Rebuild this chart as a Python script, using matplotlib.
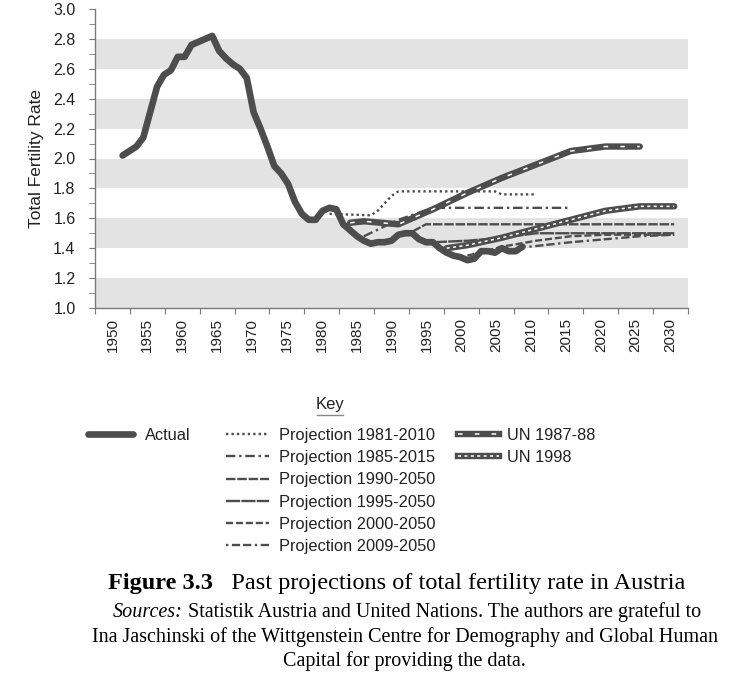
import numpy as np
import matplotlib
matplotlib.use("Agg")
import matplotlib.pyplot as plt
from matplotlib.lines import Line2D
from matplotlib.ticker import FixedLocator, FixedFormatter, NullFormatter

plt.rcParams["font.family"] = ["Liberation Sans", "DejaVu Sans"]

INK = "#4d4d4d"
BAND = "#e3e3e3"
AXIS = "#7a7a7a"

# ── data ─────────────────────────────────────────────────────────────────────
actual_years = list(range(1950, 2009))
actual_tfr = [2.02, 2.05, 2.08, 2.14, 2.31, 2.48, 2.56, 2.59, 2.68, 2.68,
              2.76, 2.78, 2.80, 2.82, 2.72, 2.67, 2.63, 2.60, 2.54, 2.31,
              2.20, 2.08, 1.95, 1.90, 1.83, 1.71, 1.63, 1.59, 1.59, 1.65,
              1.67, 1.66, 1.56, 1.52, 1.48, 1.45, 1.43, 1.44, 1.44, 1.45,
              1.49, 1.50, 1.50, 1.46, 1.44, 1.44, 1.40, 1.37, 1.35, 1.34,
              1.32, 1.33, 1.38, 1.38, 1.37, 1.40, 1.38, 1.38, 1.41]

p1981_years = [1980, 1986, 1987, 1988, 1989, 1990, 2004, 2005, 2010]
p1981_tfr   = [1.63, 1.62, 1.65, 1.70, 1.75, 1.78, 1.78, 1.76, 1.76]

p1985_years = [1985, 1990, 1995, 2015]
p1985_tfr   = [1.48, 1.59, 1.67, 1.67]

p1990_years = [1992, 1994, 2030]
p1990_tfr   = [1.51, 1.56, 1.56]

p1995_years = [1995, 2000, 2005, 2010, 2030]
p1995_tfr   = [1.44, 1.45, 1.47, 1.50, 1.50]

p2000_years = [2000, 2005, 2010, 2015, 2020, 2030]
p2000_tfr   = [1.35, 1.41, 1.45, 1.48, 1.49, 1.49]

p2009_years = [2009, 2015, 2020, 2025, 2030]
p2009_tfr   = [1.41, 1.44, 1.46, 1.48, 1.49]

un87_years = [1983, 1985, 1990, 1995, 2000, 2005, 2010, 2015, 2020, 2025]
un87_tfr   = [1.57, 1.58, 1.56, 1.66, 1.77, 1.87, 1.96, 2.05, 2.08, 2.08]

un98_years = [1997, 2000, 2005, 2010, 2015, 2020, 2025, 2030]
un98_tfr   = [1.40, 1.42, 1.47, 1.53, 1.59, 1.65, 1.68, 1.68]

year_labels = [str(y) for y in range(1950, 2031, 5)]
y_labels = [f"{v:.1f}" for v in np.arange(1.0, 3.01, 0.2)]

# ── figure ───────────────────────────────────────────────────────────────────
W, H = 729, 680
fig = plt.figure(figsize=(W / 100, H / 100), dpi=100)
ax = fig.add_axes([95 / W, 1 - 308 / H, 593 / W, 299 / H])

for lo in np.arange(1.0, 2.9, 0.4):
    ax.axhspan(lo, lo + 0.2, color=BAND, lw=0, zorder=0)

proj_lw = 1.7
styles = [
    (p1981_years, p1981_tfr, (0, (1, 1.3)), "Projection 1981-2010"),
    (p1985_years, p1985_tfr, (0, (4, 1.6, 1, 1.6)), "Projection 1985-2015"),
    (p1990_years, p1990_tfr, (0, (4, 0.8)), "Projection 1990-2050"),
    (p1995_years, p1995_tfr, (0, (6, 0.5)), "Projection 1995-2050"),
    (p2000_years, p2000_tfr, (0, (3, 1.2)), "Projection 2000-2050"),
    (p2009_years, p2009_tfr, (0, (1, 1.5, 3.5, 1.2, 3.5, 1.5)), "Projection 2009-2050"),
]
proj_handles = []
for yrs, vals, ls, lab in styles:
    ax.plot(yrs, vals, color=INK, lw=proj_lw, linestyle=ls, zorder=3)
    proj_handles.append(Line2D([], [], color=INK, lw=proj_lw, linestyle=ls))

un_specs = [(un87_years, un87_tfr, (0, (3, 8))), (un98_years, un98_tfr, (0, (2, 2.2)))]
un_handles = []
for yrs, vals, ls in un_specs:
    ax.plot(yrs, vals, color=INK, lw=4.6, solid_capstyle="round", zorder=4)
    ax.plot(yrs, vals, color="white", lw=1.1, linestyle=ls, zorder=5)
    un_handles.append((Line2D([], [], color=INK, lw=4.6),
                       Line2D([], [], color="white", lw=1.1, linestyle=ls)))

ax.plot(actual_years, actual_tfr, color=INK, lw=4.8, solid_capstyle="round",
        solid_joinstyle="round", zorder=6)

# axes: Excel-style category axis, labels centred between ticks
x_lo, x_hi = 1946.0, 2032.0
ax.set_xlim(x_lo, x_hi)
ax.set_ylim(1.0, 3.0)
edges = np.linspace(x_lo, x_hi, len(year_labels) + 1)
mids = (edges[:-1] + edges[1:]) / 2
ax.xaxis.set_major_locator(FixedLocator(edges))
ax.xaxis.set_major_formatter(NullFormatter())
ax.xaxis.set_minor_locator(FixedLocator(mids))
ax.xaxis.set_minor_formatter(FixedFormatter(year_labels))
ax.tick_params(axis="x", which="major", length=4, color=AXIS, direction="out")
ax.tick_params(axis="x", which="minor", length=0, pad=7, labelsize=11,
               labelrotation=90, labelcolor="#222222")

ax.yaxis.set_major_locator(FixedLocator(np.arange(1.0, 3.01, 0.2)))
ax.yaxis.set_major_formatter(FixedFormatter(y_labels))
ax.yaxis.set_minor_locator(FixedLocator(np.arange(1.1, 3.0, 0.2)))
ax.tick_params(axis="y", which="both", length=4, color=AXIS, direction="out",
               pad=10, labelsize=11.5, labelcolor="#222222")

for side in ("top", "right"):
    ax.spines[side].set_visible(False)
for side in ("left", "bottom"):
    ax.spines[side].set_color(AXIS)
    ax.spines[side].set_linewidth(1.0)

ax.set_ylabel("Total Fertility Rate", fontsize=12.5, color="#222222")
ax.yaxis.set_label_coords(-0.086, 0.5)

# ── key ──────────────────────────────────────────────────────────────────────
fig.text(330 / W, 1 - 404 / H, "Key", ha="center", va="center", fontsize=12,
         color="#222222")
fig.add_artist(Line2D([317 / W, 343 / W], [1 - 415 / H] * 2, color="#888888", lw=1))

leg_kw = dict(frameon=False, loc="upper left", fontsize=11.8, borderpad=0,
              borderaxespad=0, labelspacing=0.44, labelcolor="#222222")
top = 1 - 428 / H
fig.legend([Line2D([], [], color=INK, lw=4.8, solid_capstyle="round")], ["Actual"],
           bbox_to_anchor=(88 / W, top), handlelength=2.75, handletextpad=0.73, **leg_kw)
fig.legend(proj_handles, [s[3] for s in styles],
           bbox_to_anchor=(226 / W, top), handlelength=2.65, handletextpad=0.6, **leg_kw)
fig.legend(un_handles, ["UN 1987-88", "UN 1998"],
           bbox_to_anchor=(458 / W, top), handlelength=2.5, handletextpad=0.5, **leg_kw)

# ── caption ──────────────────────────────────────────────────────────────────
renderer = fig.canvas.get_renderer()
serif = ["Liberation Serif", "DejaVu Serif"]


def mixed_line(parts, y_px, cx_px=405, size=14.5):
    texts = [fig.text(0, 0, s, family=serif, fontsize=size, va="baseline", **kw)
             for s, kw in parts]
    widths = [t.get_window_extent(renderer).width for t in texts]
    x = cx_px - sum(widths) / 2
    for t, w in zip(texts, widths):
        t.set_position((x / W, 1 - y_px / H))
        x += w


mixed_line([("Figure 3.3", dict(weight="bold")),
            ("   Past projections of total fertility rate in Austria", {})],
           589, cx_px=397, size=17.5)
mixed_line([("Sources:", dict(style="italic")),
            (" Statistik Austria and United Nations. The authors are grateful to", {})],
           617, cx_px=407)
mixed_line([("Ina Jaschinski of the Wittgenstein Centre for Demography and Global Human", {})],
           642)
mixed_line([("Capital for providing the data.", {})], 666, cx_px=404)

fig.savefig("out.png", dpi=100)
